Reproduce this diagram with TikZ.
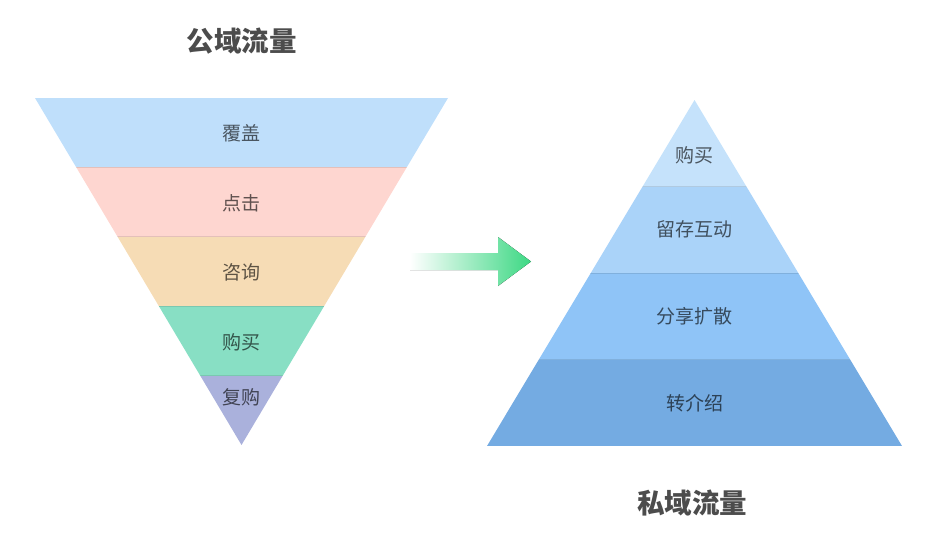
\documentclass[tikz,border=0pt]{standalone}
\usepackage{fontspec}
\newfontfamily\cjk{Noto Sans CJK SC}
\definecolor{phA}{HTML}{BFDFFB}
\definecolor{phB}{HTML}{FED6D0}
\definecolor{phC}{HTML}{F6DCB5}
\definecolor{phD}{HTML}{88DFC4}
\definecolor{phE}{HTML}{AAB1DC}
\definecolor{thA}{HTML}{C5E2FB}
\definecolor{thB}{HTML}{AAD3F9}
\definecolor{thC}{HTML}{8FC4F7}
\definecolor{thD}{HTML}{74ABE2}
\definecolor{xanh}{HTML}{3DD884}
\begin{document}
\begin{tikzpicture}[x=1pt, y=-1pt, line join=round, line cap=round,
	font=\cjk\fontsize{19}{19}\selectfont,
	nhan/.style={text=black, text opacity=0.62, inner sep=0pt},
	tieude/.style={font=\cjk\bfseries\fontsize{27.5}{27.5}\selectfont, text=black!70, inner sep=0pt},
	vach/.style={black, opacity=0.1, line width=0.7pt}]
	\useasboundingbox (0,0) rectangle (932,544);
	\def\xt{35} \def\xp{448} \def\yt{98} \def\yd{445} \def\h{69.4} % phễu: x_trái, x_phải, y_trên, y_đỉnh, bề dày 1 tầng
	\begin{scope}
		\clip (\xt,\yt)--(\xp,\yt)--(241.5,\yd)--cycle;
		\foreach \i/\mau in {0/phA,1/phB,2/phC,3/phD,4/phE}
		\fill[\mau] (30,\yt+\i*\h) rectangle (455,\yt+\i*\h+\h);
		\foreach \i in {1,...,4}
		\draw[vach] (30,\yt+\i*\h)--(455,\yt+\i*\h);
	\end{scope}
	\foreach \i/\ty/\chu in {1/133/覆盖,2/203/点击,3/272/咨询,4/342/购买,5/397/复购}
	\node[nhan] (p\i) at (241.5,\ty) {\chu};
	\node[tieude] (tdCong) at (241.5,41) {公域流量};
	% kim tự tháp
	\def\xt{487} \def\xp{902} \def\yt{100} \def\yd{446} \def\h{86.5}
	\begin{scope}
		\clip (694.5,\yt)--(\xp,\yd)--(\xt,\yd)--cycle;
		\foreach \i/\mau in {0/thA,1/thB,2/thC,3/thD}
		\fill[\mau] (480,\yt+\i*\h) rectangle (910,\yt+\i*\h+\h);
		\foreach \i in {1,2,3}
		\draw[vach] (480,\yt+\i*\h)--(910,\yt+\i*\h);
	\end{scope}
	\foreach \i/\ty/\chu in {1/155/购买,2/229/留存互动,3/316/分享扩散,4/403/转介绍}
	\node[nhan] (k\i) at (694.5,\ty) {\chu};
	\node[tieude] (tdRieng) at (692,503) {私域流量};
	% mũi tên chuyển
	\fill[left color=white, right color=xanh]
	(410,253)--(498,253)--(498,237)--(531,261.5)--(498,286)--(498,270)--(410,270)--cycle;
\end{tikzpicture}
\end{document}
